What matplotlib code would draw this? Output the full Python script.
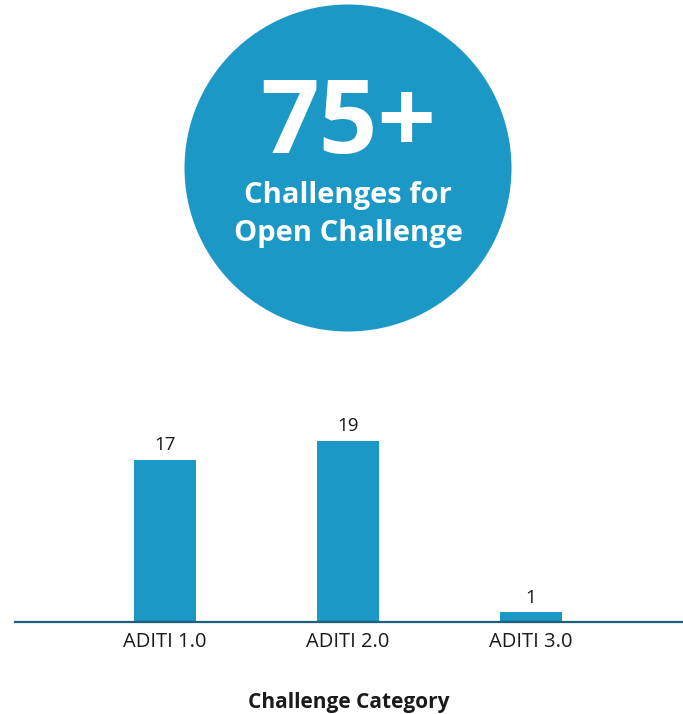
import matplotlib
matplotlib.use('Agg')
import matplotlib.pyplot as plt
from matplotlib.patches import Circle

## ADITI challenge counts
categories = ['ADITI 1.0', 'ADITI 2.0', 'ADITI 3.0']
challenges = [17, 19, 1]
headline = '75+'
headline_sub = ['Challenges for', 'Open Challenge']

blue = '#1b98c5'
base_color = '#1d5f7c'
text_color = '#1a1a1a'
font = 'Open Sans'

fig = plt.figure(figsize=(6.83, 7.14), dpi=100)

## big circle with the headline number on top
deco = fig.add_axes([0, 0, 1, 1])
deco.set_xlim(0, 683)
deco.set_ylim(714, 0)
deco.axis('off')
deco.add_patch(Circle((348, 168), 163.5, color=blue, lw=0))
deco.text(348, 127, headline, ha='center', va='center', color='white',
          fontsize=74, fontweight='bold', family=font)
for yy, line in zip([196, 233], headline_sub):
    deco.text(348, yy, line, ha='center', va='center', color='white',
              fontsize=21, fontweight='bold', family=font)

## bar chart
ax = fig.add_axes([15 / 683, 1 - 622 / 714, 668 / 683, 222 / 714])
x = list(range(len(categories)))
bars = ax.bar(x, challenges, width=0.34, color=blue, zorder=2)
for b, v in zip(bars, challenges):
    ax.text(b.get_x() + b.get_width() / 2, v + 0.6, str(v), ha='center', va='bottom',
            fontsize=13.5, color=text_color, family=font)

ax.set_xlim(-0.82, 2.83)
ax.set_ylim(0, 23.3)
ax.set_xticks(x)
ax.set_xticklabels(categories, fontsize=14.5, color=text_color, family=font)
ax.tick_params(axis='x', length=0, pad=7)
ax.set_yticks([])
for s in ['top', 'left', 'right']:
    ax.spines[s].set_visible(False)
ax.spines['bottom'].set_color(base_color)
ax.spines['bottom'].set_linewidth(1.6)
ax.spines['bottom'].set_zorder(3)
ax.set_xlabel('Challenge Category', fontsize=15, fontweight='bold', color=text_color,
              family=font, labelpad=29)

fig.savefig('out.png', dpi=100)
